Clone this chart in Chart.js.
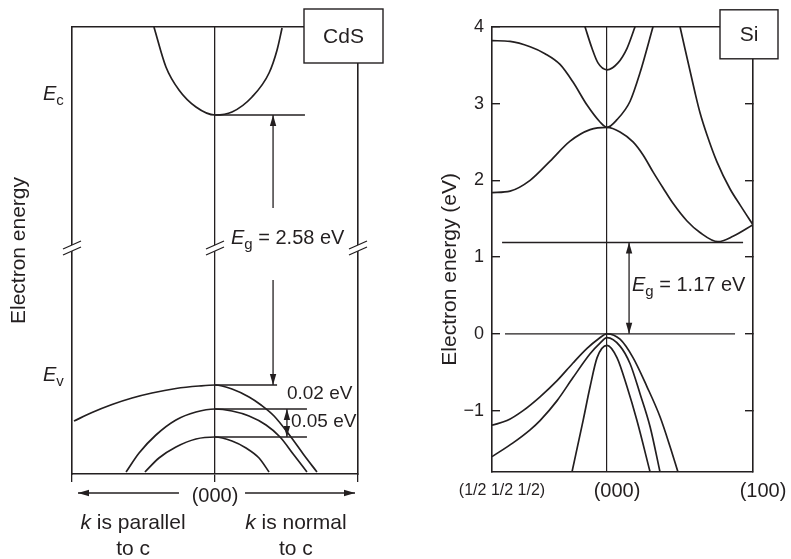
<!DOCTYPE html>
<html><head><meta charset="utf-8">
<script src="https://cdn.jsdelivr.net/npm/chart.js@4.4.1/dist/chart.umd.min.js"></script>
<style>
html,body{margin:0;padding:0;background:#fff;}
#wrap{position:relative;width:791px;height:559px;background:#fff;}
canvas{position:absolute;left:0;top:0;}
</style></head><body>
<div id="wrap"><canvas id="cds" width="791" height="559"></canvas><canvas id="si" width="791" height="559"></canvas></div>
<script>
const FONT = "'Liberation Sans', Arial, Helvetica, sans-serif";
const INK = '#231f20';

// ================= CdS panel (k: -1 = edge, parallel to c; +1 = edge, normal to c; energy in arbitrary units on a broken axis)
const cdsCbK = [-0.427, -0.343, -0.252, -0.133, 0, 0.119, 0.259, 0.378, 0.434, 0.469];
const cdsCbE = [44.7, 40.7, 38.4, 36.7, 35.9, 36.2, 37.7, 40.1, 42.4, 44.6];
const cdsV1K = [-0.986, -0.860, -0.720, -0.580, -0.441, -0.273, -0.112, 0, 0.119, 0.238, 0.322, 0.413, 0.531, 0.622, 0.713];
const cdsV1E = [5.3, 6.15, 6.95, 7.6, 8.1, 8.55, 8.8, 8.9, 8.5, 7.7, 6.9, 5.8, 3.7, 1.9, 0.2];
const cdsV2K = [-0.622, -0.531, -0.413, -0.273, -0.133, 0, 0.119, 0.238, 0.357, 0.455, 0.552, 0.643];
const cdsV2E = [0.2, 2.1, 3.9, 5.4, 6.2, 6.5, 6.3, 5.8, 4.9, 3.7, 1.9, 0.2];
const cdsV3K = [-0.490, -0.392, -0.273, -0.133, 0, 0.119, 0.217, 0.308, 0.378];
const cdsV3E = [0.2, 1.6, 2.7, 3.5, 3.7, 3.3, 2.6, 1.6, 0.2];
const cdsLevelE = [35.9, 8.9, 6.5, 3.7];
const cdsLevelEndK = [0.629, 0.434, 0.643, 0.643];
const cdsXTicks = [-1, 0, 1];
const cdsXTickLabels = ['', '(000)', ''];
const cdsBreakK = [-1, 0, 1];
const cdsBreakE = 22.6;
const cdsGapArrowK = 0.406;
const cdsGapArrowUpE = [26.6, 35.9];
const cdsGapArrowDownE = [19.4, 8.9];
const cdsSplitArrowK = 0.503;

// ================= Si panel (k: L = (1/2 1/2 1/2), Γ = (000), X = (100); energy in eV)
const siC1K = [-0.788, -0.664, -0.527, -0.425, -0.322, -0.233, -0.137, -0.048, 0, 0.068, 0.158, 0.226, 0.315];
const siC1E = [3.82, 3.81, 3.74, 3.65, 3.51, 3.28, 2.98, 2.76, 2.69, 2.79, 3.03, 3.40, 4.0];
const siC2K = [-0.788, -0.664, -0.527, -0.390, -0.253, -0.116, 0, 0.089, 0.178, 0.247, 0.315, 0.384, 0.452, 0.548, 0.637, 0.760, 0.863, 1.0];
const siC2E = [1.84, 1.86, 2.0, 2.25, 2.51, 2.66, 2.69, 2.63, 2.50, 2.33, 2.11, 1.90, 1.70, 1.47, 1.32, 1.20, 1.27, 1.42];
const siC3K = [0.5, 0.603, 0.637, 0.685, 0.753, 0.842, 0.911, 1.0];
const siC3E = [4.0, 3.14, 2.88, 2.59, 2.24, 1.89, 1.68, 1.42];
const siC4K = [-0.151, -0.103, -0.062, 0, 0.075, 0.137, 0.192];
const siC4E = [4.0, 3.72, 3.53, 3.44, 3.53, 3.72, 4.0];
const siV1K = [-0.788, -0.685, -0.575, -0.459, -0.342, -0.233, -0.137, -0.062, 0, 0.089, 0.178, 0.274, 0.363, 0.432, 0.486];
const siV1E = [-1.19, -1.13, -1.0, -0.82, -0.61, -0.38, -0.19, -0.07, 0, -0.07, -0.31, -0.69, -1.08, -1.47, -1.8];
const siV2K = [-0.788, -0.644, -0.527, -0.459, -0.342, -0.233, -0.116, -0.048, 0, 0.089, 0.158, 0.226, 0.295, 0.363];
const siV2E = [-1.60, -1.42, -1.25, -1.13, -0.87, -0.57, -0.26, -0.12, -0.05, -0.16, -0.39, -0.78, -1.21, -1.8];
const siV3K = [-0.240, -0.164, -0.116, -0.068, 0, 0.068, 0.137, 0.205, 0.295];
const siV3E = [-1.8, -1.13, -0.69, -0.31, -0.15, -0.31, -0.69, -1.13, -1.8];
const siLevelE = [0, 1.19];
const siLevelStartK = [-0.699, -0.719];
const siLevelEndK = [0.877, 0.932];
const siXTicks = [-0.788, 0, 1];
const siXTickLabels = ['(1/2 1/2 1/2)', '(000)', '(100)'];
const siYTicks = [-1, 0, 1, 2, 3, 4];
const siYTickLabels = ['\u22121', '0', '1', '2', '3', '4'];
const siGapArrowK = 0.151;

Chart.defaults.font.family = FONT;
Chart.defaults.color = INK;

function curve(k, e, w) {
  return { data: k.map((x, i) => ({ x: x, y: e[i] })), borderColor: INK, borderWidth: w || 1.7,
           pointRadius: 0, fill: false, cubicInterpolationMode: 'monotone' };
}
function level(k0, k1, e) {
  return { data: [{ x: k0, y: e }, { x: k1, y: e }], borderColor: INK, borderWidth: 1.3, pointRadius: 0, fill: false, tension: 0 };
}
function fixedTicks(vals) { return s => { s.ticks = vals.map(v => ({ value: v })); }; }
const border = { display: true, color: INK, width: 1.6 };

function head(ctx, x1, y1, x2, y2, len, hw) {
  len = len || 11; hw = hw || 3.2;
  const a = Math.atan2(y2 - y1, x2 - x1), c = Math.cos(a), s = Math.sin(a);
  ctx.beginPath();
  ctx.moveTo(x2, y2);
  ctx.lineTo(x2 - len * c + hw * s, y2 - len * s - hw * c);
  ctx.lineTo(x2 - len * c - hw * s, y2 - len * s + hw * c);
  ctx.closePath(); ctx.fill();
}
function arrow(ctx, x1, y1, x2, y2, both) {
  ctx.beginPath(); ctx.moveTo(x1, y1); ctx.lineTo(x2, y2); ctx.stroke();
  head(ctx, x1, y1, x2, y2);
  if (both) head(ctx, x2, y2, x1, y1);
}
function subText(ctx, x, y, main, sub, rest, size) {
  ctx.textAlign = 'left'; ctx.textBaseline = 'alphabetic';
  ctx.font = 'italic ' + size + 'px ' + FONT; ctx.fillText(main, x, y); x += ctx.measureText(main).width;
  const ss = Math.round(size * 0.75);
  ctx.font = ss + 'px ' + FONT; ctx.fillText(sub, x, y + size * 0.27); x += ctx.measureText(sub).width;
  if (rest) { ctx.font = size + 'px ' + FONT; ctx.fillText(rest, x, y); }
}
function italicLead(ctx, cx, y, lead, rest, size) {
  ctx.textBaseline = 'alphabetic'; ctx.textAlign = 'left';
  ctx.font = 'italic ' + size + 'px ' + FONT; const w1 = ctx.measureText(lead).width;
  ctx.font = size + 'px ' + FONT; const w2 = ctx.measureText(rest).width;
  let x = cx - (w1 + w2) / 2;
  ctx.font = 'italic ' + size + 'px ' + FONT; ctx.fillText(lead, x, y);
  ctx.font = size + 'px ' + FONT; ctx.fillText(rest, x + w1, y);
}
function labelBox(ctx, x0, y0, x1, y1, text, size) {
  ctx.fillStyle = '#fff'; ctx.fillRect(x0, y0, x1 - x0, y1 - y0);
  ctx.strokeStyle = INK; ctx.lineWidth = 1.4; ctx.strokeRect(x0, y0, x1 - x0, y1 - y0);
  ctx.fillStyle = INK; ctx.font = size + 'px ' + FONT; ctx.textAlign = 'center'; ctx.textBaseline = 'middle';
  ctx.fillText(text, (x0 + x1) / 2, (y0 + y1) / 2 + 1);
}

const cdsDecor = {
  id: 'cdsDecor',
  afterDraw(chart) {
    const { ctx, chartArea: ca, scales: { x, y } } = chart;
    const X = v => x.getPixelForValue(v), Y = v => y.getPixelForValue(v);
    ctx.save();
    ctx.strokeStyle = INK; ctx.fillStyle = INK; ctx.lineWidth = 1.3;
    // axis break marks
    cdsBreakK.forEach(k => {
      const cx = X(k), cy = Y(cdsBreakE);
      ctx.fillStyle = '#fff';
      ctx.beginPath();
      ctx.moveTo(cx - 9, cy + 1); ctx.lineTo(cx + 9, cy - 7); ctx.lineTo(cx + 9, cy - 1); ctx.lineTo(cx - 9, cy + 7);
      ctx.closePath(); ctx.fill();
      ctx.beginPath();
      ctx.moveTo(cx - 9, cy + 1); ctx.lineTo(cx + 9, cy - 7);
      ctx.moveTo(cx - 9, cy + 7); ctx.lineTo(cx + 9, cy - 1);
      ctx.stroke();
    });
    ctx.fillStyle = INK;
    // band-gap arrows
    arrow(ctx, X(cdsGapArrowK), Y(cdsGapArrowUpE[0]), X(cdsGapArrowK), Y(cdsGapArrowUpE[1]));
    arrow(ctx, X(cdsGapArrowK), Y(cdsGapArrowDownE[0]), X(cdsGapArrowK), Y(cdsGapArrowDownE[1]));
    arrow(ctx, X(cdsSplitArrowK), Y(cdsLevelE[2]), X(cdsSplitArrowK), Y(cdsLevelE[3]), true);
    // texts
    subText(ctx, X(0.112), Y(23.0), 'E', 'g', ' = 2.58 eV', 20);
    ctx.font = '19px ' + FONT; ctx.textAlign = 'left'; ctx.textBaseline = 'middle';
    ctx.fillText('0.02 eV', X(0.503), Y(8.0));
    ctx.fillText('0.05 eV', X(0.531), Y(5.2));
    subText(ctx, ca.left - 29, Y(37.4), 'E', 'c', '', 20);
    subText(ctx, ca.left - 29, Y(9.3), 'E', 'v', '', 20);
    // k-direction arrows and captions below the axis
    const ay = ca.bottom + 19;
    arrow(ctx, X(-0.252), ay, X(-0.958), ay);
    arrow(ctx, X(0.210), ay, X(0.979), ay);
    italicLead(ctx, X(-0.573), ca.bottom + 55, 'k', ' is parallel', 21);
    italicLead(ctx, X(-0.573), ca.bottom + 81, '', 'to c', 21);
    italicLead(ctx, X(0.566), ca.bottom + 55, 'k', ' is normal', 21);
    italicLead(ctx, X(0.566), ca.bottom + 81, '', 'to c', 21);
    // panel label
    labelBox(ctx, ca.right - 54, ca.top - 18, ca.right + 25, ca.top + 36, 'CdS', 21);
    ctx.restore();
  }
};

const siDecor = {
  id: 'siDecor',
  afterDraw(chart) {
    const { ctx, chartArea: ca, scales: { x, y } } = chart;
    const X = v => x.getPixelForValue(v), Y = v => y.getPixelForValue(v);
    ctx.save();
    ctx.strokeStyle = INK; ctx.fillStyle = INK; ctx.lineWidth = 1.3;
    arrow(ctx, X(siGapArrowK), Y(siLevelE[1]), X(siGapArrowK), Y(siLevelE[0]), true);
    subText(ctx, X(0.171), Y(0.56), 'E', 'g', ' = 1.17 eV', 20);
    // y-axis title
    ctx.save();
    ctx.translate(ca.left - 42, Y(0.84)); ctx.rotate(-Math.PI / 2);
    ctx.font = '21px ' + FONT; ctx.textAlign = 'center'; ctx.textBaseline = 'middle';
    ctx.fillText('Electron energy (eV)', 0, 0);
    ctx.restore();
    labelBox(ctx, ca.right - 33, ca.top - 17, ca.right + 25, ca.top + 32, 'Si', 21);
    ctx.restore();
  }
};

const gammaGrid = c => (c.tick && c.tick.value === 0) ? INK : 'rgba(0,0,0,0)';

new Chart(document.getElementById('cds'), {
  type: 'line',
  data: { datasets: [
    curve(cdsCbK, cdsCbE), curve(cdsV1K, cdsV1E), curve(cdsV2K, cdsV2E), curve(cdsV3K, cdsV3E),
    ...cdsLevelE.map((e, i) => level(0, cdsLevelEndK[i], e))
  ] },
  options: {
    responsive: false, animation: false, events: [],
    layout: { padding: { left: 0, right: 423, top: 17, bottom: 45 } },
    plugins: { legend: { display: false }, tooltip: { enabled: false } },
    scales: {
      x: { type: 'linear', position: 'bottom', min: -1, max: 1,
           afterBuildTicks: fixedTicks(cdsXTicks), afterFit: s => { s.height = 40; },
           ticks: { callback: (v, i) => cdsXTickLabels[i], padding: 2, maxRotation: 0, autoSkip: false,
                    font: { size: 20 }, color: INK },
           grid: { color: gammaGrid, lineWidth: 1.3, tickLength: 8, tickColor: INK, tickWidth: 1.3 },
           border: border },
      x2: { type: 'linear', position: 'top', min: -1, max: 1, afterFit: s => { s.height = 10; },
            ticks: { display: false }, grid: { display: false }, border: border },
      y: { type: 'linear', position: 'left', min: 0, max: 44.7, afterFit: s => { s.width = 72; },
           ticks: { display: false }, grid: { display: false }, border: border,
           title: { display: true, text: 'Electron energy', font: { size: 21 }, color: INK, padding: { top: 7, bottom: 0 } } },
      y2: { type: 'linear', position: 'right', min: 0, max: 44.7, afterFit: s => { s.width = 10; },
            ticks: { display: false }, grid: { display: false }, border: border }
    }
  },
  plugins: [cdsDecor]
});

new Chart(document.getElementById('si'), {
  type: 'line',
  data: { datasets: [
    curve(siC1K, siC1E), curve(siC2K, siC2E), curve(siC3K, siC3E), curve(siC4K, siC4E),
    curve(siV1K, siV1E), curve(siV2K, siV2E), curve(siV3K, siV3E),
    ...siLevelE.map((e, i) => level(siLevelStartK[i], siLevelEndK[i], e))
  ] },
  options: {
    responsive: false, animation: false, events: [],
    layout: { padding: { left: 432, right: 28, top: 15, bottom: 47 } },
    plugins: { legend: { display: false }, tooltip: { enabled: false } },
    scales: {
      x: { type: 'linear', position: 'bottom', min: -0.788, max: 1,
           afterBuildTicks: fixedTicks(siXTicks), afterFit: s => { s.height = 40; },
           ticks: { callback: (v, i) => siXTickLabels[i], padding: 7, labelOffset: 10, maxRotation: 0, autoSkip: false,
                    font: c => c.index === 0 ? { size: 16, lineHeight: 1.5 } : { size: 20, lineHeight: 1.2 }, color: INK },
           grid: { color: gammaGrid, lineWidth: 1.2, drawTicks: false },
           border: border },
      x2: { type: 'linear', position: 'top', min: -0.788, max: 1, afterFit: s => { s.height = 10; },
            ticks: { display: false }, grid: { display: false }, border: border },
      y: { type: 'linear', position: 'left', min: -1.8, max: 4,
           afterBuildTicks: fixedTicks(siYTicks), afterFit: s => { s.width = 60; },
           ticks: { callback: (v, i) => siYTickLabels[i], padding: 16, font: { size: 18 }, color: INK, autoSkip: false },
           grid: { drawOnChartArea: false, drawTicks: true, tickLength: -8, color: INK, tickColor: INK, lineWidth: 1.4 },
           border: border },
      y2: { type: 'linear', position: 'right', min: -1.8, max: 4,
            afterBuildTicks: fixedTicks(siYTicks), afterFit: s => { s.width = 10; },
            ticks: { display: false },
            grid: { drawOnChartArea: false, drawTicks: true, tickLength: -8, color: INK, tickColor: INK, lineWidth: 1.4 },
            border: border }
    }
  },
  plugins: [siDecor]
});
</script>
</body></html>
